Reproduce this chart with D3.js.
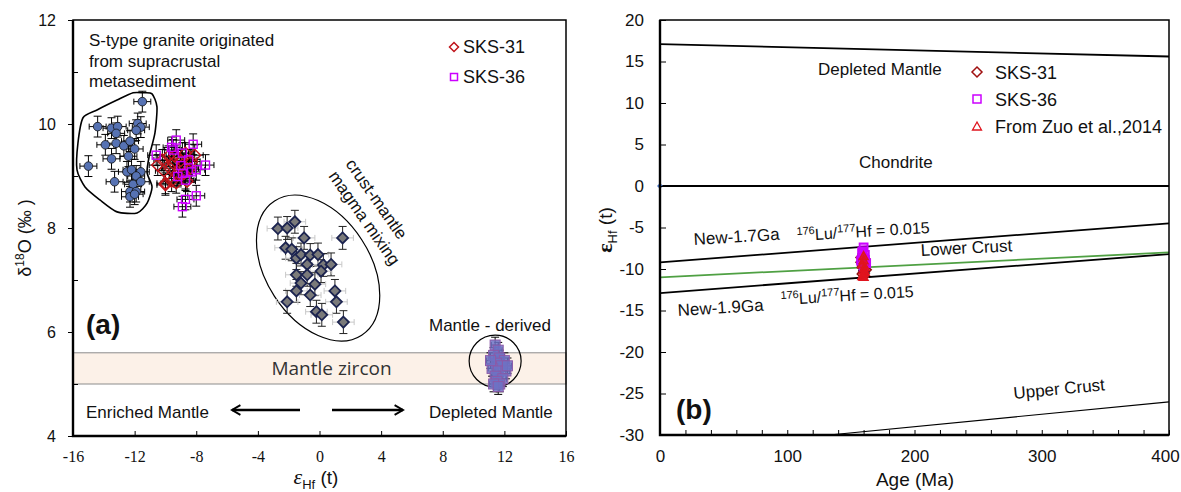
<!DOCTYPE html>
<html>
<head>
<meta charset="utf-8">
<script src="https://cdnjs.cloudflare.com/ajax/libs/d3/7.8.5/d3.min.js"></script>
<style>
body { margin: 0; background: #fff; }
svg text { font-family: "Liberation Sans", Arial, sans-serif; fill: #111; }
</style>
</head>
<body>
<div id="chart"></div>
<script>
// ---------- panel (a): eHf(t) vs d18O ----------
var stypeX = [-11.5, -14.4, -13.5, -13.1, -13.2, -11.8, -11.6, -11.9, -13.9, -13.2, -12.7, -12.3, -12.0, -13.5,
    -12.4, -15.0, -12.5, -12.2, -11.6, -11.9, -13.3, -12.1, -11.6, -12.3, -11.9, -12.3, -12.0];
var stypeY = [10.43, 9.95, 9.92, 9.95, 9.82, 10.01, 9.94, 9.88, 9.6, 9.63, 9.58, 9.67, 9.52, 9.33,
    9.38, 9.19, 9.08, 9.12, 9.08, 9.0, 8.89, 8.84, 8.89, 8.7, 8.7, 8.6, 8.65];

var sks31X = [-10.2, -10.0, -9.7, -9.4, -9.2, -8.9, -8.7, -8.4, -8.3, -9.6, -10.5, -9.8, -10.1, -8.6, -8.1, -10.0, -9.3, -9.0, -9.5, -8.8];
var sks31Y = [9.31, 8.83, 9.15, 9.38, 9.02, 9.21, 9.44, 9.15, 9.28, 8.9, 9.21, 9.38, 9.1, 8.9, 9.4, 8.86, 8.87, 9.3, 9.25, 9.05];

var sks36X = [-9.3, -8.2, -10.6, -9.5, -8.9, -8.5, -7.4, -8.0, -8.3, -8.9, -9.2, -8.7, -8.0, -8.7, -8.9, -9.6, -9.0];
var sks36Y = [9.69, 9.61, 9.4, 9.5, 9.44, 9.31, 9.21, 9.12, 9.08, 9.05, 8.99, 8.92, 8.62, 8.55, 8.41, 9.55, 9.2];

var mixX = [-2.7, -2.1, -1.6, -1.0, 1.5, -2.2, -1.8, -1.5, -1.2, -0.6, -0.1, -0.8, 0.25, 0.75, -1.5, -0.8, -1.2,
    -0.3, 0.1, -1.5, 1.0, -0.6, -2.1, 1.1, -0.2, 0.15, 1.55];
var mixY = [7.99, 8.0, 8.12, 7.81, 7.81, 7.62, 7.59, 7.42, 7.49, 7.48, 7.49, 7.3, 7.29, 7.3, 7.1, 7.1, 6.94,
    6.92, 7.17, 6.79, 6.79, 6.71, 6.58, 6.58, 6.39, 6.33, 6.19];

var mantleX = [11.4, 11.6, 11.3, 11.7, 12.0, 11.5, 11.8, 11.2, 11.6, 12.1, 11.4, 11.9, 11.5, 11.7, 11.3, 11.6, 12.2, 11.1];
var mantleY = [5.75, 5.65, 5.55, 5.5, 5.45, 5.4, 5.35, 5.3, 5.25, 5.25, 5.15, 5.1, 5.05, 5.0, 5.0, 4.95, 5.35, 5.45];

// outline drawn round the S-type group
var stypeHull = [[-11.45, 10.6], [-10.87, 10.58], [-10.55, 10.33], [-10.68, 9.83], [-11.06, 9.37], [-11.19, 9.06],
    [-10.87, 8.79], [-11.19, 8.48], [-11.84, 8.29], [-13.14, 8.31], [-14.25, 8.54], [-15.22, 8.79], [-15.74, 9.12],
    [-15.68, 9.63], [-15.35, 10.12], [-14.44, 10.27], [-13.14, 10.46], [-12.1, 10.6]];
var zirconBand = [5.0, 5.6];
var xTicksA = [-16, -12, -8, -4, 0, 4, 8, 12, 16];
var yTicksA = [4, 6, 8, 10, 12];
var yMinorA = [5, 7, 9, 11];

// ---------- panel (b): age vs eHf(t) ----------
var ageB31 = [158, 160, 161, 159, 162, 160, 158, 161, 159, 160];
var epsB31 = [-8.6, -9.0, -9.4, -9.8, -10.1, -10.4, -9.2, -8.8, -10.6, -9.6];
var ageB36 = [160, 159, 161, 160, 158, 162, 160, 159, 161];
var epsB36 = [-7.4, -7.9, -8.3, -8.7, -9.0, -9.3, -9.7, -8.1, -8.9];
var ageZuo = [160, 160, 159, 161, 160, 160, 159, 161, 160];
var epsZuo = [-8.5, -9.0, -9.5, -9.8, -10.2, -10.6, -10.9, -10.4, -11.0];

var depletedLine = [[0, 17.1], [400, 15.6]];
var chondriteLine = [[0, 0], [400, 0]];
var new17Line = [[0, -9.2], [400, -4.5]];
var new19Line = [[0, -12.9], [400, -8.2]];
var lowerCrustLine = [[0, -11.0], [400, -8.0]];
var upperCrustLine = [[133, -30], [400, -26]];
var xTicksB = [0, 100, 200, 300, 400];
var yTicksB = [-30, -25, -20, -15, -10, -5, 0, 5, 10, 15, 20];

var svg = d3.select("#chart").append("svg")
    .attr("width", 1181)
    .attr("height", 492);

function diamond(cx, cy, r) {
    return "M" + cx + "," + (cy - r) + "L" + (cx + r) + "," + cy + "L" + cx + "," + (cy + r) + "L" + (cx - r) + "," + cy + "Z";
}
function triangle(cx, cy, r) {
    return "M" + cx + "," + (cy - r) + "L" + (cx + r * 0.9) + "," + (cy + r * 0.6) + "L" + (cx - r * 0.9) + "," + (cy + r * 0.6) + "Z";
}

function errBars(g, xs, ys, x, y, ex, ey, colX, colY) {
    xs.forEach(function (v, i) {
        var px = x(v), py = y(ys[i]);
        var x0 = x(v - ex), x1 = x(v + ex), y0 = y(ys[i] - ey), y1 = y(ys[i] + ey);
        g.append("line").attr("x1", x0).attr("x2", x1).attr("y1", py).attr("y2", py).attr("stroke", colX);
        g.append("line").attr("x1", x0).attr("x2", x0).attr("y1", py - 3).attr("y2", py + 3).attr("stroke", colX);
        g.append("line").attr("x1", x1).attr("x2", x1).attr("y1", py - 3).attr("y2", py + 3).attr("stroke", colX);
        g.append("line").attr("x1", px).attr("x2", px).attr("y1", y0).attr("y2", y1).attr("stroke", colY);
        g.append("line").attr("x1", px - 4).attr("x2", px + 4).attr("y1", y0).attr("y2", y0).attr("stroke", colY);
        g.append("line").attr("x1", px - 4).attr("x2", px + 4).attr("y1", y1).attr("y2", y1).attr("stroke", colY);
    });
}
// plain hyphen for negatives, like the original figure
function hy(d) { return String(d); }

/* ================= panel (a) ================= */
var xA = d3.scaleLinear().domain([-16, 16]).range([73, 566]);
var yA = d3.scaleLinear().domain([4, 12]).range([436, 20]);
var ga = svg.append("g");

// mantle zircon band
ga.append("rect")
    .attr("x", xA(-16)).attr("y", yA(zirconBand[1]))
    .attr("width", xA(16) - xA(-16)).attr("height", yA(zirconBand[0]) - yA(zirconBand[1]))
    .attr("fill", "#fcf1e8").attr("stroke", "#8c8c8c");
ga.append("text").attr("x", xA(0) + 12).attr("y", yA(5.3) + 7)
    .attr("text-anchor", "middle").style("font-family", "'Open Sans', sans-serif")
    .style("font-size", "19px").style("fill", "#333").text("Mantle zircon");

// group outlines
ga.append("path")
    .attr("d", d3.line().x(function (d) { return xA(d[0]); }).y(function (d) { return yA(d[1]); })
        .curve(d3.curveCardinalClosed.tension(0.3))(stypeHull))
    .attr("fill", "none").attr("stroke", "#000").attr("stroke-width", 1.6);
ga.append("ellipse")
    .attr("transform", "translate(" + xA(-0.09) + "," + yA(7.23) + ") rotate(57)")
    .attr("rx", 80).attr("ry", 52)
    .attr("fill", "none").attr("stroke", "#000").attr("stroke-width", 1.2);
ga.append("circle")
    .attr("cx", xA(11.4)).attr("cy", yA(5.44)).attr("r", 26)
    .attr("fill", "none").attr("stroke", "#000").attr("stroke-width", 1.2);

// S-type points
errBars(ga, stypeX, stypeY, xA, yA, 0.55, 0.2, "#000", "#000");
ga.selectAll("circle.st").data(stypeX).enter().append("circle")
    .attr("cx", function (d) { return xA(d); })
    .attr("cy", function (d, i) { return yA(stypeY[i]); })
    .attr("r", 4.3)
    .attr("fill", "#5672b3").attr("stroke", "#111").attr("stroke-width", 0.8);

// crust-mantle mixing points
errBars(ga, mixX, mixY, xA, yA, 0.7, 0.22, "#c8c8c8", "#222");
ga.selectAll("path.mx").data(mixX).enter().append("path")
    .attr("d", function (d, i) { return diamond(xA(d), yA(mixY[i]), 5.5); })
    .attr("fill", "#7a7a7a").attr("stroke", "#1c2450").attr("stroke-width", 1.8);

// SKS samples
errBars(ga, sks31X, sks31Y, xA, yA, 0.55, 0.2, "#000", "#000");
errBars(ga, sks36X, sks36Y, xA, yA, 0.55, 0.2, "#000", "#000");
ga.selectAll("path.s31").data(sks31X).enter().append("path")
    .attr("d", function (d, i) { return diamond(xA(d), yA(sks31Y[i]), 6); })
    .attr("fill", "none").attr("stroke", "#c0141b").attr("stroke-width", 1.4);
ga.selectAll("rect.s36").data(sks36X).enter().append("rect")
    .attr("x", function (d) { return xA(d) - 4; })
    .attr("y", function (d, i) { return yA(sks36Y[i]) - 4; })
    .attr("width", 8).attr("height", 8)
    .attr("fill", "none").attr("stroke", "#cc00ff").attr("stroke-width", 1.4);

// mantle-derived points
errBars(ga, mantleX, mantleY, xA, yA, 0.25, 0.15, "#000", "#000");
ga.selectAll("rect.md").data(mantleX).enter().append("rect")
    .attr("x", function (d) { return xA(d) - 5; })
    .attr("y", function (d, i) { return yA(mantleY[i]) - 5; })
    .attr("width", 10).attr("height", 10)
    .attr("fill", "#6d72c4").attr("fill-opacity", 0.85)
    .attr("stroke", "#8c5aa8").attr("stroke-width", 1);

// axes
ga.append("g").attr("transform", "translate(0," + yA(4) + ")")
    .call(d3.axisBottom(xA).tickValues(xTicksA).tickSize(-5).tickPadding(15).tickFormat(hy))
    .call(function (g) {
        g.select(".domain").remove();
        g.selectAll("text").style("font-family", "'Liberation Serif', serif").style("font-size", "16px");
    });
ga.append("g").attr("transform", "translate(" + xA(-16) + ",0)")
    .call(d3.axisLeft(yA).tickValues(yTicksA).tickSize(5).tickPadding(12))
    .call(function (g) {
        g.select(".domain").remove();
        g.selectAll("text").style("font-size", "16px");
    });
ga.append("g").attr("transform", "translate(" + xA(-16) + ",0)")
    .call(d3.axisLeft(yA).tickValues(yMinorA).tickSize(-5).tickFormat(""))
    .call(function (g) { g.select(".domain").remove(); });
ga.append("rect").attr("x", xA(-16)).attr("y", yA(12))
    .attr("width", xA(16) - xA(-16)).attr("height", yA(4) - yA(12))
    .attr("fill", "none").attr("stroke", "#000").attr("stroke-width", 1.5);
ga.append("path").attr("d", "M" + xA(-16) + "," + yA(12) + "V" + yA(4) + "H" + xA(16))
    .attr("fill", "none").attr("stroke", "#000").attr("stroke-width", 2.4);

// annotations
var stxt = ga.append("text").style("font-size", "17px");
["S-type granite originated", "from supracrustal", "metasediment"].forEach(function (s, i) {
    stxt.append("tspan").attr("x", 89).attr("y", 46 + i * 20.5).text(s);
});
ga.append("path").attr("d", diamond(454, 47, 4.5)).attr("fill", "none").attr("stroke", "#c0141b").attr("stroke-width", 1.5);
ga.append("text").attr("x", 463).attr("y", 53).style("font-size", "18px").text("SKS-31");
ga.append("rect").attr("x", 450.5).attr("y", 73.5).attr("width", 7).attr("height", 7)
    .attr("fill", "none").attr("stroke", "#cc00ff").attr("stroke-width", 1.5);
ga.append("text").attr("x", 463).attr("y", 83).style("font-size", "18px").text("SKS-36");

ga.append("text").attr("transform", "translate(345,164) rotate(55)").style("font-size", "17px").text("crust-mantle");
ga.append("text").attr("transform", "translate(328,176) rotate(55)").style("font-size", "17px").text("magma mixing");

ga.append("text").attr("x", 86).attr("y", 334).style("font-size", "28px").style("font-weight", "bold").text("(a)");
ga.append("text").attr("x", 429).attr("y", 331).style("font-size", "17px").text("Mantle - derived");
ga.append("text").attr("x", 86).attr("y", 418).style("font-size", "17px").text("Enriched Mantle");
ga.append("text").attr("x", 429).attr("y", 418).style("font-size", "17px").text("Depleted Mantle");

svg.append("defs").append("marker").attr("id", "arr")
    .attr("viewBox", "0 0 10 10").attr("refX", 8).attr("refY", 5)
    .attr("markerWidth", 5).attr("markerHeight", 5).attr("orient", "auto-start-reverse")
    .append("path").attr("d", "M1,1L8,5L1,9").attr("fill", "none").attr("stroke", "#000").attr("stroke-width", 1.6);
ga.append("line").attr("x1", 300).attr("x2", 232).attr("y1", 410).attr("y2", 410)
    .attr("stroke", "#000").attr("stroke-width", 2.4).attr("marker-end", "url(#arr)");
ga.append("line").attr("x1", 332).attr("x2", 403).attr("y1", 410).attr("y2", 410)
    .attr("stroke", "#000").attr("stroke-width", 2.4).attr("marker-end", "url(#arr)");

var xla = ga.append("text").attr("x", 316).attr("y", 484).attr("text-anchor", "middle").style("font-size", "19px");
xla.append("tspan").style("font-style", "italic").style("font-family", "'Liberation Serif', serif").style("font-size", "22px").text("ε");
xla.append("tspan").attr("dy", 5).style("font-size", "13px").text("Hf");
xla.append("tspan").attr("dy", -5).text(" (t)");

var yla = ga.append("text").attr("transform", "translate(31,238) rotate(-90)")
    .attr("text-anchor", "middle").style("font-size", "18px");
yla.append("tspan").text("δ");
yla.append("tspan").attr("dy", -7).style("font-size", "12px").text("18");
yla.append("tspan").attr("dy", 7).text("O (‰ )");

/* ================= panel (b) ================= */
var xB = d3.scaleLinear().domain([0, 400]).range([660, 1169]);
var yB = d3.scaleLinear().domain([-30, 20]).range([435, 20]);
var gb = svg.append("g");
var lineB = d3.line().x(function (d) { return xB(d[0]); }).y(function (d) { return yB(d[1]); });

[depletedLine, chondriteLine, new17Line, new19Line].forEach(function (l) {
    gb.append("path").attr("d", lineB(l)).attr("stroke", "#000").attr("stroke-width", 1.8).attr("fill", "none");
});
gb.append("path").attr("d", lineB(upperCrustLine)).attr("stroke", "#000").attr("stroke-width", 1.2).attr("fill", "none");
gb.append("path").attr("d", lineB(lowerCrustLine)).attr("stroke", "#4fa043").attr("stroke-width", 1.8).attr("fill", "none");

// samples
errBars(gb, ageB31, epsB31, xB, yB, 1.5, 0.4, "#000", "#000");
gb.selectAll("path.b31").data(ageB31).enter().append("path")
    .attr("d", function (d, i) { return diamond(xB(d), yB(epsB31[i]), 5); })
    .attr("fill", "none").attr("stroke", "#8b1010").attr("stroke-width", 1.6);
gb.selectAll("rect.b36").data(ageB36).enter().append("rect")
    .attr("x", function (d) { return xB(d) - 4; })
    .attr("y", function (d, i) { return yB(epsB36[i]) - 4; })
    .attr("width", 8).attr("height", 8)
    .attr("fill", "#d000ff").attr("fill-opacity", 0.6)
    .attr("stroke", "#cc00ff").attr("stroke-width", 1.8);
gb.selectAll("path.zuo").data(ageZuo).enter().append("path")
    .attr("d", function (d, i) { return triangle(xB(d), yB(epsZuo[i]), 5); })
    .attr("fill", "#e0141e").attr("fill-opacity", 0.8)
    .attr("stroke", "#e0141e").attr("stroke-width", 1.4);
gb.append("path").attr("d", diamond(xB(0), yB(0), 3)).attr("fill", "#4472c4");

// axes
gb.append("g").attr("transform", "translate(0," + yB(-30) + ")")
    .call(d3.axisBottom(xB).ticks(20).tickSize(-5).tickPadding(15)
        .tickFormat(function (d) { return xTicksB.indexOf(d) >= 0 ? d : ""; }))
    .call(function (g) {
        g.select(".domain").remove();
        g.selectAll("text").style("font-size", "17px");
        g.selectAll("text").filter(function (d) { return d === 400; }).attr("dx", -4);
    });
gb.append("g").attr("transform", "translate(" + xB(0) + ",0)")
    .call(d3.axisLeft(yB).tickValues(yTicksB).tickSize(-6).tickPadding(16).tickFormat(hy))
    .call(function (g) {
        g.select(".domain").remove();
        g.selectAll("text").style("font-size", "17px");
    });
gb.append("rect").attr("x", xB(0)).attr("y", yB(20))
    .attr("width", xB(400) - xB(0)).attr("height", yB(-30) - yB(20))
    .attr("fill", "none").attr("stroke", "#000").attr("stroke-width", 1.5);
gb.append("path").attr("d", "M" + xB(0) + "," + yB(20) + "V" + yB(-30) + "H" + xB(400))
    .attr("fill", "none").attr("stroke", "#000").attr("stroke-width", 2.4);

// labels
gb.append("text").attr("x", 818).attr("y", 75).style("font-size", "17px").text("Depleted Mantle");
gb.append("text").attr("x", 859).attr("y", 168).style("font-size", "17px").text("Chondrite");

function luhf(x, y, ang) {
    var t = gb.append("text").attr("transform", "translate(" + x + "," + y + ") rotate(" + ang + ")").style("font-size", "16px");
    t.append("tspan").attr("dy", -6).style("font-size", "11px").text("176");
    t.append("tspan").attr("dy", 6).text("Lu/");
    t.append("tspan").attr("dy", -6).style("font-size", "11px").text("177");
    t.append("tspan").attr("dy", 6).text("Hf = 0.015");
}
gb.append("text").attr("transform", "translate(694,245) rotate(-3.5)").style("font-size", "17px").text("New-1.7Ga");
luhf(797, 241, -3.5);
gb.append("text").attr("transform", "translate(678,316) rotate(-3.5)").style("font-size", "17px").text("New-1.9Ga");
luhf(781, 305, -3.5);
gb.append("text").attr("transform", "translate(921,256) rotate(-3)").style("font-size", "17px").text("Lower Crust");
gb.append("text").attr("transform", "translate(1014,399) rotate(-5.5)").style("font-size", "17px").text("Upper Crust");
gb.append("text").attr("x", 676).attr("y", 419).style("font-size", "28px").style("font-weight", "bold").text("(b)");

// legend
gb.append("path").attr("d", diamond(977, 72, 5)).attr("fill", "none").attr("stroke", "#a01010").attr("stroke-width", 1.5);
gb.append("text").attr("x", 995).attr("y", 79).style("font-size", "18px").text("SKS-31");
gb.append("rect").attr("x", 973).attr("y", 95).attr("width", 8).attr("height", 8)
    .attr("fill", "none").attr("stroke", "#cc00ff").attr("stroke-width", 1.5);
gb.append("text").attr("x", 995).attr("y", 106).style("font-size", "18px").text("SKS-36");
gb.append("path").attr("d", triangle(977, 127, 5)).attr("fill", "none").attr("stroke", "#e0141e").attr("stroke-width", 1.3);
gb.append("text").attr("x", 995).attr("y", 133).style("font-size", "18px").text("From Zuo et al.,2014");

var ylb = gb.append("text").attr("transform", "translate(612,230) rotate(-90)")
    .attr("text-anchor", "middle").style("font-size", "19px");
ylb.append("tspan").style("font-weight", "bold").style("font-family", "'Liberation Serif', serif").style("font-size", "22px").text("ε");
ylb.append("tspan").attr("dy", 5).style("font-size", "13px").text("Hf");
ylb.append("tspan").attr("dy", -5).text(" (t)");
gb.append("text").attr("x", 915).attr("y", 486).attr("text-anchor", "middle").style("font-size", "19px").text("Age (Ma)");
</script>
</body>
</html>
